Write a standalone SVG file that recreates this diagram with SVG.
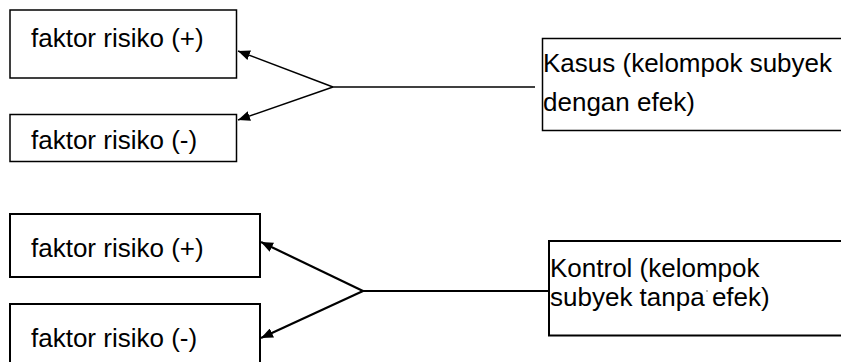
<svg xmlns="http://www.w3.org/2000/svg" width="841" height="362" viewBox="0 0 841 362">
  <style>
    .box { fill: #ffffff; stroke: #000000; stroke-width: 1.5; }
    .box2 { fill: #ffffff; stroke: #000000; stroke-width: 2; }
    .lbl { font-family: "Liberation Sans", Arial, sans-serif; font-size: 26px; fill: #000000; }
    .wire { fill: none; stroke: #000000; stroke-width: 1.5; }
    .wire2 { fill: none; stroke: #000000; stroke-width: 2.2; }
  </style>
  <defs>
    <marker id="tip" viewBox="0 0 12 10" refX="12" refY="5" markerWidth="12" markerHeight="10" markerUnits="userSpaceOnUse" orient="auto">
      <path d="M0,0 L12,5 L0,10 Z" fill="#000000"/>
    </marker>
  </defs>
  <rect width="841" height="362" fill="#ffffff"/>

  <!-- case group -->
  <g id="risk-pos-1">
    <rect class="box" x="10" y="10" width="226.5" height="68"/>
    <text class="lbl" x="31" y="47">faktor risiko (+)</text>
  </g>
  <g id="risk-neg-1">
    <rect class="box" x="10" y="114.5" width="226.5" height="47"/>
    <text class="lbl" x="31" y="149">faktor risiko (-)</text>
  </g>
  <g id="kasus">
    <path class="box" d="M850,38.5 H542.5 V130.5 H850"/>
    <text class="lbl" x="543" y="72">Kasus (kelompok subyek</text>
    <text class="lbl" x="543" y="111">dengan efek)</text>
  </g>

  <!-- control group -->
  <g id="risk-pos-2">
    <rect class="box2" x="10" y="214" width="250" height="63"/>
    <text class="lbl" x="31" y="257">faktor risiko (+)</text>
  </g>
  <g id="risk-neg-2">
    <path class="box2" d="M10,370 V304 H260 V370"/>
    <text class="lbl" x="31" y="347">faktor risiko (-)</text>
  </g>
  <g id="kontrol">
    <path class="box2" d="M850,241 H549 V335.5 H850"/>
    <text class="lbl" x="550" y="277">Kontrol (kelompok</text>
    <text class="lbl" x="550" y="306">subyek tanpa efek)</text>
    <circle cx="707" cy="291" r="0.8" fill="#555555"/>
  </g>

  <g id="connectors">
    <path class="wire" d="M535,87 H333"/>
    <path class="wire" d="M333,87 L238,51" marker-end="url(#tip)"/>
    <path class="wire" d="M333,87 L238,120" marker-end="url(#tip)"/>
    <path class="wire2" d="M549,291 H363"/>
    <path class="wire2" d="M363,291 L261,242" marker-end="url(#tip)"/>
    <path class="wire2" d="M363,291 L261,338" marker-end="url(#tip)"/>
  </g>
</svg>
